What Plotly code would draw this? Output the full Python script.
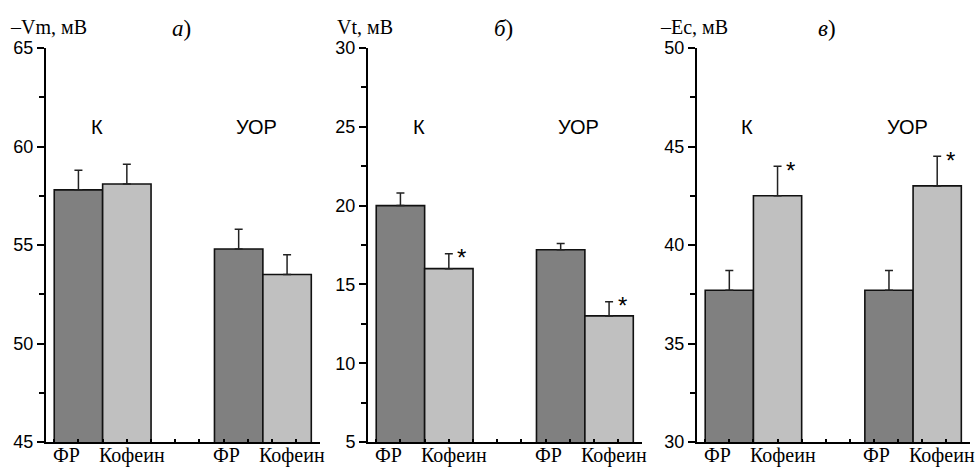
import plotly.graph_objects as go

# ---------------- data ----------------
groups = ["К", "УОР"]
treatments = ["ФР", "Кофеин"]

vm_fr = [57.8, 54.8]
vm_fr_err = [1.0, 1.0]
vm_caf = [58.1, 53.5]
vm_caf_err = [1.0, 1.0]
vm_caf_sig = [False, False]

vt_fr = [20.0, 17.2]
vt_fr_err = [0.8, 0.4]
vt_caf = [16.0, 13.0]
vt_caf_err = [0.95, 0.9]
vt_caf_sig = [True, True]

ec_fr = [37.7, 37.7]
ec_fr_err = [1.0, 1.0]
ec_caf = [42.5, 43.0]
ec_caf_err = [1.5, 1.5]
ec_caf_sig = [True, True]

y_titles = ["–Vm, мВ", "Vt, мВ", "–Ec, мВ"]
panel_letters = ["а", "б", "в"]
y_ranges = [[45, 65], [5, 30], [30, 50]]

# ---------------- layout constants ----------------
W, H = 978, 467
TOP, BOT = 48, 442
x_domains_px = [(46, 320), (368, 642), (697, 970)]
group_centers = [1.17, 4.48]
bar_w = 1.0
x_range = [0, 5.66]
dark = "#808080"
light = "#c0c0c0"
serif = "Liberation Serif"
sans = "Liberation Sans"

panels = [
    (vm_fr, vm_fr_err, vm_caf, vm_caf_err, vm_caf_sig),
    (vt_fr, vt_fr_err, vt_caf, vt_caf_err, vt_caf_sig),
    (ec_fr, ec_fr_err, ec_caf, ec_caf_err, ec_caf_sig),
]

fig = go.Figure()
annotations = []

for p, (fr, fr_e, caf, caf_e, sig) in enumerate(panels):
    xa = "x" if p == 0 else f"x{p+1}"
    ya = "y" if p == 0 else f"y{p+1}"
    xs, ys, es, cols = [], [], [], []
    for g, gc in enumerate(group_centers):
        xs += [gc - bar_w / 2, gc + bar_w / 2]
        ys += [fr[g], caf[g]]
        es += [fr_e[g], caf_e[g]]
        cols += [dark, light]
    fig.add_trace(go.Bar(
        x=xs, y=ys, width=bar_w, xaxis=xa, yaxis=ya,
        marker=dict(color=cols, line=dict(color="#111111", width=1.6)),
        error_y=dict(type="data", symmetric=False, array=es,
                     arrayminus=[0] * len(es), color="#222222",
                     thickness=1.5, width=4),
        showlegend=False, hoverinfo="skip",
    ))
    x0, x1 = x_domains_px[p]
    d = dict(domain=[x0 / W, x1 / W], range=x_range, showgrid=False,
             zeroline=False, showline=True, linecolor="black", linewidth=2,
             ticks="inside", ticklen=3, tickwidth=1.5, tickcolor="black",
             tick0=0.17, dtick=0.5, showticklabels=False, anchor=ya,
             fixedrange=True)
    fig.update_layout(**{("xaxis" if p == 0 else f"xaxis{p+1}"): d})
    yd = dict(range=y_ranges[p], dtick=5, tick0=0,
              showgrid=False, zeroline=False, showline=True,
              linecolor="black", linewidth=2,
              ticks="outside", ticklen=7, tickwidth=2, tickcolor="black",
              minor=dict(ticks="outside", ticklen=5, tickwidth=2,
                         tickcolor="black", dtick=2.5, tick0=0),
              tickfont=dict(family=sans, size=18, color="black"),
              anchor=xa, domain=[0, 1], fixedrange=True)
    fig.update_layout(**{("yaxis" if p == 0 else f"yaxis{p+1}"): yd})

    for g, gc in enumerate(group_centers):
        annotations.append(dict(
            x=gc, y=0.80, xref=xa, yref="paper", text=groups[g],
            showarrow=False, xshift=-6, xanchor="center", yanchor="middle",
            font=dict(family=sans, size=20, color="black")))
        annotations.append(dict(
            x=gc - bar_w / 2, y=0, xref=xa, yref="paper", text=treatments[0],
            showarrow=False, xshift=-12, yshift=-13, xanchor="center",
            yanchor="middle", font=dict(family=serif, size=20, color="black")))
        annotations.append(dict(
            x=gc + bar_w / 2, y=0, xref=xa, yref="paper", text=treatments[1],
            showarrow=False, xshift=5, yshift=-13, xanchor="center",
            yanchor="middle", font=dict(family=serif, size=20, color="black")))
        if sig[g]:
            annotations.append(dict(
                x=gc + bar_w / 2, y=caf[g] + caf_e[g], xref=xa, yref=ya,
                text="*", showarrow=False, xshift=13, yshift=-4,
                xanchor="center", yanchor="middle",
                font=dict(family=sans, size=24, color="black")))

    title_x = [8, 335, 658][p]
    letter_x = [181, 503, 827][p]
    annotations.append(dict(
        x=title_x / W, y=1 + (TOP - 27) / (BOT - TOP), xref="paper",
        yref="paper", text=y_titles[p], showarrow=False, xanchor="left",
        yanchor="middle", font=dict(family=serif, size=20, color="black")))
    annotations.append(dict(
        x=letter_x / W, y=1 + (TOP - 29) / (BOT - TOP), xref="paper",
        yref="paper", text=f"<i>{panel_letters[p]}</i>)", showarrow=False,
        xanchor="center", yanchor="middle",
        font=dict(family=serif, size=23, color="black")))

fig.update_layout(
    width=W, height=H, barmode="overlay",
    margin=dict(l=0, r=0, t=TOP, b=H - BOT, pad=0),
    plot_bgcolor="white", paper_bgcolor="white",
    annotations=annotations,
)

fig.write_html("out.html")
